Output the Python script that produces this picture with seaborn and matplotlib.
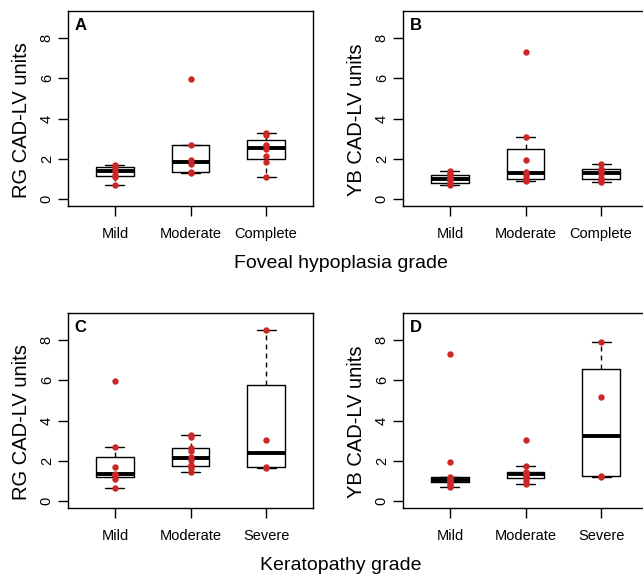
import numpy as np
import pandas as pd
import matplotlib
matplotlib.use("Agg")
import matplotlib.pyplot as plt
import seaborn as sns

# grades (x categories)
fh_grades = ["Mild", "Moderate", "Complete"]
kp_grades = ["Mild", "Moderate", "Severe"]

# A: RG by foveal hypoplasia grade
rg_fh_mild = [0.70, 1.10, 1.20, 1.40, 1.55, 1.62, 1.66]
rg_fh_moderate = [1.30, 1.35, 1.72, 1.95, 2.67, 5.96]
rg_fh_complete = [1.09, 1.84, 2.12, 2.48, 2.62, 2.70, 3.20, 3.28]

# B: YB by foveal hypoplasia grade
yb_fh_mild = [0.68, 0.74, 0.81, 0.92, 0.99, 1.06, 1.18, 1.28, 1.36]
yb_fh_moderate = [0.88, 0.92, 1.06, 1.20, 1.32, 1.95, 3.06, 7.33]
yb_fh_complete = [0.86, 0.95, 1.03, 1.22, 1.36, 1.42, 1.50, 1.74]

# C: RG by keratopathy grade
rg_kp_mild = [0.66, 1.08, 1.30, 1.30, 1.34, 1.69, 2.70, 5.96]
rg_kp_moderate = [1.42, 1.62, 1.72, 1.79, 2.05, 2.17, 2.50, 2.62, 3.20, 3.28]
rg_kp_severe = [1.65, 1.70, 3.03, 8.53]

# D: YB by keratopathy grade
yb_kp_mild = [0.68, 0.78, 0.88, 0.95, 1.00, 1.03, 1.08, 1.15, 1.20, 1.94, 7.32]
yb_kp_moderate = [0.86, 1.00, 1.16, 1.25, 1.30, 1.36, 1.40, 1.44, 1.71, 3.05]
yb_kp_severe = [1.20, 1.25, 5.18, 7.93]

y_ticks = [0, 2, 4, 6, 8]
point_color = "#CD2626"


def fivenum(x):
    # R's fivenum (Tukey hinges)
    x = np.sort(np.asarray(x, float))
    n = len(x)
    n4 = np.floor((n + 3) / 2) / 2
    d = np.array([1, n4, (n + 1) / 2, n + 1 - n4, n])
    return 0.5 * (x[np.floor(d).astype(int) - 1] + x[np.ceil(d).astype(int) - 1])


def box_stats(x):
    # same rules as R boxplot.stats
    x = np.asarray(x, float)
    s = fivenum(x)
    iqr = s[3] - s[1]
    keep = x[(x >= s[1] - 1.5 * iqr) & (x <= s[3] + 1.5 * iqr)]
    return dict(whislo=keep.min(), q1=s[1], med=s[2], q3=s[3], whishi=keep.max(), fliers=[])


sns.set_style("ticks")
plt.rcParams["font.family"] = ["Liberation Sans", "DejaVu Sans"]
plt.rcParams.update({"text.color": "black", "axes.labelcolor": "black",
                     "xtick.color": "black", "ytick.color": "black"})

W, H = 643, 574
fig = plt.figure(figsize=(W / 100, H / 100), dpi=100)

panels = [
    ("A", 68, 11, fh_grades, [rg_fh_mild, rg_fh_moderate, rg_fh_complete], "RG CAD-LV units"),
    ("B", 403, 11, fh_grades, [yb_fh_mild, yb_fh_moderate, yb_fh_complete], "YB CAD-LV units"),
    ("C", 68, 313, kp_grades, [rg_kp_mild, rg_kp_moderate, rg_kp_severe], "RG CAD-LV units"),
    ("D", 403, 313, kp_grades, [yb_kp_mild, yb_kp_moderate, yb_kp_severe], "YB CAD-LV units"),
]

for letter, left, top, grades, groups, ylab in panels:
    ax = fig.add_axes([left / W, 1 - (top + 195) / H, 245 / W, 195 / H])

    ax.bxp([box_stats(g) for g in groups], positions=[0, 1, 2], widths=0.5, capwidths=0.25,
           showfliers=False, manage_ticks=False,
           boxprops=dict(color="black", linewidth=1.0),
           medianprops=dict(color="black", linewidth=2.8, solid_capstyle="butt"),
           whiskerprops=dict(color="black", linewidth=1.0, linestyle=(0, (3.5, 3))),
           capprops=dict(color="black", linewidth=1.0))

    df = pd.DataFrame({
        "grade": np.repeat(grades, [len(g) for g in groups]),
        "value": np.concatenate(groups),
    })
    sns.stripplot(data=df, x="grade", y="value", order=grades, jitter=False,
                  color=point_color, size=4.6, linewidth=0, ax=ax, zorder=3)

    ax.set_xlim(-0.62, 2.62)
    ax.set_ylim(-0.36, 9.36)
    ax.set_yticks(y_ticks)
    ax.set_xlabel("")
    ax.set_ylabel(ylab, fontsize=14.5)
    ax.yaxis.set_label_coords(-0.151, 0.441)
    for sp in ax.spines.values():
        sp.set_visible(True)
        sp.set_color("black")
        sp.set_linewidth(1.0)
    ax.tick_params(length=7.2, width=1.0, color="black", labelsize=10.5, direction="out")
    ax.tick_params(axis="x", pad=8)
    ax.tick_params(axis="y", pad=3)
    for lab in ax.get_yticklabels():
        lab.set_rotation(90)
        lab.set_va("center")
    ax.text(0.027, 0.965, letter, transform=ax.transAxes, ha="left", va="top",
            fontsize=12, fontweight="bold")

fig.text(341 / W, 1 - 264 / H, "Foveal hypoplasia grade", ha="center", va="center", fontsize=14)
fig.text(341 / W, 1 - 565 / H, "Keratopathy grade", ha="center", va="center", fontsize=14)

fig.savefig("out.png", dpi=100)
